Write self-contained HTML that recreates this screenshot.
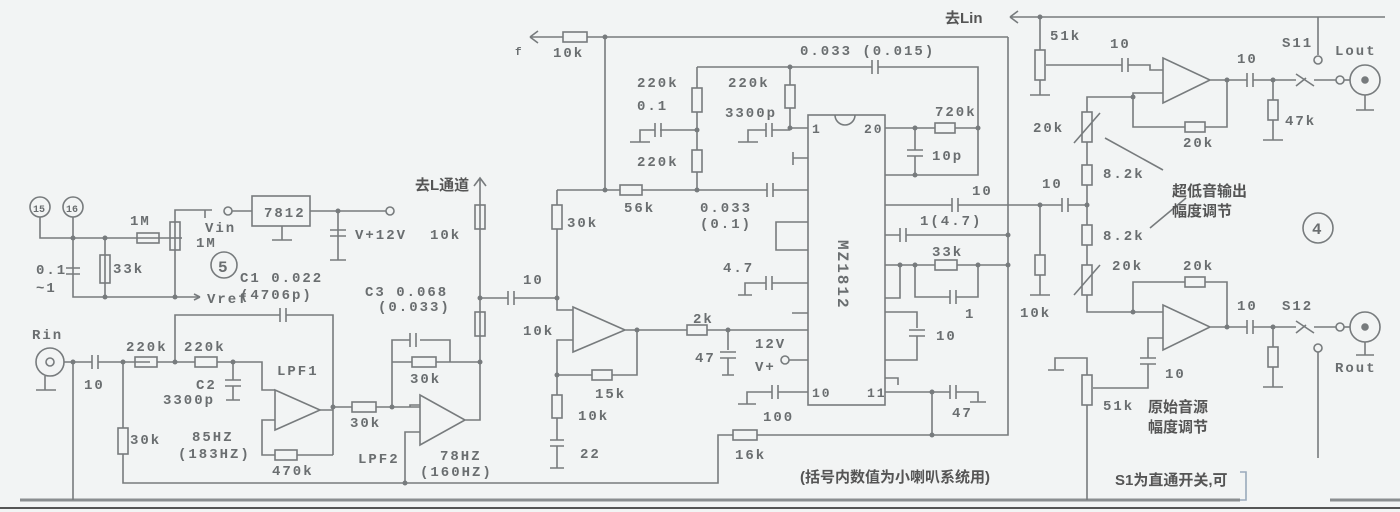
<!DOCTYPE html>
<html><head><meta charset="utf-8"><style>
html,body{margin:0;padding:0;background:#f2f4f4;}
svg{display:block}
text{font-family:"Liberation Mono","Noto Sans CJK SC",monospace;fill:#6a6e70;font-size:14px;font-weight:bold;letter-spacing:2px}
.c{font-family:"Liberation Sans","Noto Sans CJK SC",sans-serif;letter-spacing:0;font-size:15px;fill:#555}
</style></head><body>
<svg width="1400" height="512" viewBox="0 0 1400 512" xmlns="http://www.w3.org/2000/svg">
<rect width="1400" height="512" fill="#f2f4f4"/>
<g stroke="#777b7d" stroke-width="1.6" fill="none">
<path d="M20 500 H1240" stroke-width="3" stroke="#8a8e90"/>
<path d="M1330 500 H1400" stroke-width="3" stroke="#8a8e90"/>
<path d="M0 508 H1400" stroke-width="2" stroke="#555"/>
<circle cx="40" cy="207" r="10"/><circle cx="73" cy="207" r="10"/>
<path d="M40 217 V238 H170 M73 217 V238 M73 238 V297 H200 M105 238 V297 M175 222 V297 M175 222 V210 H205 M198 210 H212 M205 210 V218"/>
<rect x="137" y="233" width="22" height="10"/>
<rect x="170" y="222" width="10" height="28"/>
<path d="M182 238 H170"/>
<path d="M66 268 H80 M66 274 H80"/>
<rect x="100" y="255" width="10" height="28"/>
<path d="M200 297 L194 294 M200 297 L194 300"/>
<circle cx="228" cy="211" r="4"/>
<path d="M232 211 H252"/><rect x="252" y="196" width="58" height="30"/>
<path d="M310 211 H386 M282 226 V240 M272 240 H292 M338 211 V260 M330 230 H346 M330 236 H346 M330 260 H346"/>
<circle cx="390" cy="211" r="4"/>
<circle cx="224" cy="265" r="13"/>
<circle cx="50" cy="362" r="14"/><circle cx="50" cy="362" r="4"/>
<path d="M45 376 V390 M36 390 H56 M64 362 H92 M98 362 H150 M73 362 V500"/>
<path d="M92 355 V369 M98 355 V369"/>
<rect x="135" y="357" width="22" height="10"/><rect x="195" y="357" width="22" height="10"/>
<path d="M157 362 H195 M217 362 H262 V390 H275 M175 362 V315 H280 M286 315 H333 V455 M280 308 V322 M286 308 V322"/>
<path d="M233 362 V380 M225 380 H241 M225 386 H241 M233 386 V400 M226 400 H240"/>
<path d="M275 390 V430 L320 410 Z"/>
<path d="M320 410 H333 M275 420 H262 V455 H275 M297 455 H333"/><rect x="275" y="450" width="22" height="10"/>
<path d="M123 362 V428"/><rect x="118" y="428" width="10" height="26"/><path d="M123 454 V483 H405"/>
<path d="M333 407 H352 M376 407 H420"/><rect x="352" y="402" width="24" height="10"/>
<path d="M392 407 V362 H412 M436 362 H480 M392 362 V340 H410 M420 340 H450 V362 M410 333 V347 M416 333 V347"/>
<rect x="412" y="357" width="24" height="10"/>
<path d="M420 395 V445 L465 420 Z M420 405 H410 V407 M420 432 H405 V483 M465 420 H480 V178 M474 186 L480 178 L486 186"/>
<rect x="475" y="205" width="10" height="24"/><rect x="475" y="312" width="10" height="24"/>
<path d="M480 298 H508 M514 298 H557 M508 291 V305 M514 291 V305"/>
<path d="M530 37 H563 M587 37 H1008 M530 37 L538 31 M530 37 L538 43"/><rect x="563" y="32" width="24" height="10"/>
<path d="M605 37 V190 M557 190 H620 M642 190 H767 M773 190 H808 M767 183 V197 M773 183 V197"/><rect x="620" y="185" width="22" height="10"/>
<path d="M557 190 V205 M557 229 V310 H573 M573 340 H557 V375 H592 M612 375 H637 V330 M557 375 V395 M557 418 V440 M550 440 H564 M550 446 H564 M557 446 V468 M550 468 H564"/>
<rect x="552" y="205" width="10" height="24"/><rect x="552" y="395" width="10" height="23"/><rect x="592" y="370" width="20" height="10"/>
<path d="M573 307 V352 L625 330 Z M625 330 H687 M707 330 H808"/><rect x="687" y="325" width="20" height="10"/>
<path d="M728 330 V350 M720 352 H736 M720 358 H736 M728 358 V375 M722 375 H734"/>
<path d="M697 67 H872 M878 67 H978 V175 H885 M872 60 V74 M878 60 V74"/>
<path d="M697 67 V88 M697 112 V150 M697 172 V190 M660 130 H697 M655 123 V137 M661 123 V137 M655 130 H640 V142 M630 142 H650"/>
<rect x="692" y="88" width="10" height="24"/><rect x="692" y="150" width="10" height="22"/>
<path d="M790 67 V85 M790 108 V128 H808 M772 130 H790 M766 123 V137 M772 123 V137 M766 130 H748 V142 M738 142 H758"/>
<rect x="785" y="85" width="10" height="23"/>
<rect x="808" y="115" width="77" height="290"/><path d="M835 115 A10 10 0 0 0 855 115"/>
<path d="M793 152 V165 M793 158 H808 M808 222 H776 V250 H808 M808 283 H772 M766 276 V290 M772 276 V290 M766 283 H745 V295 M738 295 H752 M792 313 H808"/>
<circle cx="785" cy="360" r="4"/><path d="M789 360 H808 M808 392 H778 M772 385 V399 M778 385 V399 M772 392 H747 V404 M738 404 H756"/>
<path d="M885 128 H935 M955 128 H978 M915 128 V150 M907 150 H923 M907 156 H923 M915 156 V175"/><rect x="935" y="123" width="20" height="10"/>
<path d="M885 205 H952 M958 205 H1040 M952 198 V212 M958 198 V212"/>
<path d="M885 235 H900 M906 235 H1008 M900 228 V242 M906 228 V242"/>
<path d="M885 265 H935 M957 265 H1008 M900 265 V298 H885 M915 265 V297 H950 M956 297 H978 V265 M950 290 V304 M956 290 V304"/><rect x="935" y="260" width="22" height="10"/>
<path d="M885 312 H917 V328 M909 330 H925 M909 336 H925 M917 336 V360 H885 M885 378 H898 V385 M885 392 H950 M956 392 H978 V402 M970 402 H986 M950 385 V399 M956 385 V399 M932 392 V435"/>
<path d="M1008 37 V435 H757 M733 435 H718 V483 H405"/><rect x="733" y="430" width="24" height="10"/>
<path d="M1010 17 H1385 M1010 17 L1018 11 M1010 17 L1018 23 M1040 17 V50 M1040 80 V95 M1030 95 H1050 M1046 65 H1122 M1128 65 H1150 V70 H1163"/>
<rect x="1035" y="50" width="10" height="30"/><path d="M1122 58 V72 M1128 58 V72"/>
<path d="M1163 58 V103 L1210 80 Z M1210 80 H1247 M1253 80 H1296 M1314 80 H1336 M1247 73 V87 M1253 73 V87 M1273 80 V100 M1273 120 V140 M1263 140 H1283"/>
<rect x="1268" y="100" width="10" height="20"/>
<path d="M1296 74 L1314 86 M1296 86 L1306 78"/><circle cx="1340" cy="80" r="4"/><path d="M1344 80 H1350"/>
<circle cx="1365" cy="80" r="15"/><circle cx="1365" cy="80" r="3" fill="#777b7d"/><path d="M1365 95 V110 M1356 110 H1374"/>
<path d="M1318 17 V55"/><circle cx="1318" cy="60" r="4"/>
<path d="M1163 93 H1133 V127 H1185 M1205 127 H1227 V80 M1133 97 H1087 V112"/><rect x="1185" y="122" width="20" height="10"/>
<rect x="1082" y="112" width="10" height="30"/><path d="M1074 143 L1100 113 M1087 142 V165 M1087 185 V225 M1087 245 V265 M1087 295 V312 H1163"/>
<rect x="1082" y="165" width="10" height="20"/><rect x="1082" y="225" width="10" height="20"/><rect x="1082" y="265" width="10" height="30"/>
<path d="M1074 295 L1100 265 M1105 138 L1163 170 M1150 228 L1186 198"/>
<path d="M1040 205 H1062 M1068 205 H1087 M1062 198 V212 M1068 198 V212 M1040 205 V255 M1040 275 V295 M1030 295 H1050"/><rect x="1035" y="255" width="10" height="20"/>
<path d="M1163 305 V350 L1210 327 Z M1210 327 H1247 M1253 327 H1296 M1314 327 H1336 M1247 320 V334 M1253 320 V334 M1273 327 V347 M1273 367 V387 M1263 387 H1283"/>
<rect x="1268" y="347" width="10" height="20"/>
<path d="M1296 321 L1314 333 M1296 333 L1306 325"/><circle cx="1340" cy="327" r="4"/><path d="M1344 327 H1350"/>
<circle cx="1365" cy="327" r="15"/><circle cx="1365" cy="327" r="3" fill="#777b7d"/><path d="M1365 342 V355 M1356 355 H1374"/>
<circle cx="1318" cy="348" r="4"/><path d="M1318 352 V458"/>
<path d="M1133 312 V282 H1185 M1205 282 H1227 V327 M1163 338 H1148 V358 M1140 358 H1156 M1140 364 H1156 M1148 364 V388 H1093"/><rect x="1185" y="277" width="20" height="10"/>
<rect x="1082" y="375" width="10" height="30"/><path d="M1087 375 V358 H1055 V370 M1048 370 H1064 M1087 405 V500"/>
<circle cx="1318" cy="228" r="15"/>
<path d="M1240 472 H1246 V500 H1240" stroke="#9ab"/>
</g>
<g fill="#777b7d">
<circle cx="73" cy="238" r="2.5"/><circle cx="105" cy="238" r="2.5"/><circle cx="105" cy="297" r="2.5"/><circle cx="175" cy="297" r="2.5"/>
<circle cx="338" cy="211" r="2.5"/><circle cx="73" cy="362" r="2.5"/><circle cx="123" cy="362" r="2.5"/><circle cx="175" cy="362" r="2.5"/><circle cx="233" cy="362" r="2.5"/>
<circle cx="333" cy="407" r="2.5"/><circle cx="392" cy="407" r="2.5"/><circle cx="405" cy="483" r="2.5"/><circle cx="480" cy="362" r="2.5"/><circle cx="480" cy="298" r="2.5"/><circle cx="557" cy="298" r="2.5"/>
<circle cx="605" cy="37" r="2.5"/><circle cx="605" cy="190" r="2.5"/><circle cx="697" cy="190" r="2.5"/><circle cx="697" cy="130" r="2.5"/><circle cx="790" cy="67" r="2.5"/><circle cx="790" cy="128" r="2.5"/>
<circle cx="557" cy="375" r="2.5"/><circle cx="637" cy="330" r="2.5"/><circle cx="728" cy="330" r="2.5"/><circle cx="915" cy="128" r="2.5"/><circle cx="978" cy="128" r="2.5"/><circle cx="915" cy="175" r="2.5"/>
<circle cx="900" cy="265" r="2.5"/><circle cx="915" cy="265" r="2.5"/><circle cx="978" cy="265" r="2.5"/><circle cx="1008" cy="265" r="2.5"/><circle cx="1008" cy="235" r="2.5"/>
<circle cx="932" cy="392" r="2.5"/><circle cx="932" cy="435" r="2.5"/><circle cx="1040" cy="17" r="2.5"/><circle cx="1227" cy="80" r="2.5"/><circle cx="1273" cy="80" r="2.5"/>
<circle cx="1133" cy="97" r="2.5"/><circle cx="1087" cy="205" r="2.5"/><circle cx="1040" cy="205" r="2.5"/><circle cx="1133" cy="312" r="2.5"/><circle cx="1227" cy="327" r="2.5"/><circle cx="1273" cy="327" r="2.5"/>
</g>
<text x="33" y="212" style="font-size:10px;letter-spacing:0">15</text><text x="66" y="212" style="font-size:10px;letter-spacing:0">16</text>
<text x="130" y="225">1M</text><text x="196" y="247">1M</text><text x="205" y="232">Vin</text>
<text x="264" y="217">7812</text><text x="355" y="239">V+12V</text><text x="430" y="239">10k</text>
<text x="36" y="274">0.1</text><text x="36" y="292">~1</text><text x="113" y="273">33k</text>
<text x="218" y="272" style="font-size:16px">5</text><text x="207" y="303">Vref</text>
<text x="240" y="282">C1 0.022</text><text x="240" y="299">(4706p)</text>
<text x="365" y="296">C3 0.068</text><text x="378" y="311">(0.033)</text>
<text x="32" y="339">Rin</text><text x="84" y="389">10</text><text x="126" y="351">220k</text><text x="184" y="351">220k</text>
<text x="196" y="389">C2</text><text x="163" y="404">3300p</text><text x="277" y="375">LPF1</text>
<text x="130" y="444">30k</text><text x="192" y="441">85HZ</text><text x="178" y="458">(183HZ)</text><text x="272" y="475">470k</text>
<text x="350" y="427">30k</text><text x="410" y="383">30k</text><text x="358" y="463">LPF2</text><text x="440" y="460">78HZ</text><text x="420" y="476">(160HZ)</text>
<text x="415" y="190" class="c">去L通道</text><text x="523" y="284">10</text><text x="523" y="335">10k</text>
<text x="515" y="55" style="font-size:11px">f</text><text x="553" y="57">10k</text>
<text x="637" y="87">220k</text><text x="637" y="110">0.1</text><text x="637" y="166">220k</text>
<text x="728" y="87">220k</text><text x="725" y="117">3300p</text><text x="800" y="55">0.033 (0.015)</text>
<text x="567" y="227">30k</text><text x="624" y="212">56k</text><text x="700" y="212">0.033</text><text x="700" y="228">(0.1)</text>
<text x="723" y="272">4.7</text><text x="693" y="323">2k</text><text x="695" y="362">47</text><text x="755" y="348">12V</text><text x="755" y="371">V+</text>
<text x="595" y="398">15k</text><text x="578" y="420">10k</text><text x="580" y="458">22</text><text x="763" y="421">100</text><text x="735" y="459">16k</text>
<text x="812" y="133" style="font-size:13px">1</text><text x="864" y="133" style="font-size:13px">20</text><text x="812" y="397" style="font-size:13px">10</text><text x="867" y="397" style="font-size:13px">11</text>
<text x="935" y="116">720k</text><text x="932" y="160">10p</text><text x="972" y="195">10</text><text x="920" y="225">1(4.7)</text><text x="932" y="256">33k</text><text x="965" y="318">1</text>
<text x="936" y="340">10</text><text x="952" y="417">47</text>
<text transform="translate(838,240) rotate(90)" style="font-size:16px">MZ1812</text>
<text x="800" y="482" class="c">(括号内数值为小喇叭系统用)</text>
<text x="945" y="23" class="c">去Lin</text>
<text x="1050" y="40">51k</text><text x="1110" y="48">10</text><text x="1237" y="63">10</text><text x="1282" y="47">S11</text><text x="1335" y="55">Lout</text>
<text x="1285" y="125">47k</text><text x="1183" y="147">20k</text><text x="1033" y="132">20k</text><text x="1103" y="178">8.2k</text>
<text x="1042" y="188">10</text><text x="1103" y="240">8.2k</text><text x="1112" y="270">20k</text><text x="1183" y="270">20k</text>
<text x="1020" y="317">10k</text><text x="1237" y="310">10</text><text x="1282" y="310">S12</text><text x="1335" y="372">Rout</text>
<text x="1165" y="378">10</text><text x="1103" y="410">51k</text><text x="1312" y="234" style="font-size:16px">4</text>
<text x="1172" y="196" class="c">超低音输出</text><text x="1172" y="216" class="c">幅度调节</text>
<text x="1148" y="412" class="c">原始音源</text><text x="1148" y="432" class="c">幅度调节</text>
<text x="1115" y="485" class="c">S1为直通开关,可</text>
</svg>
</body></html>
